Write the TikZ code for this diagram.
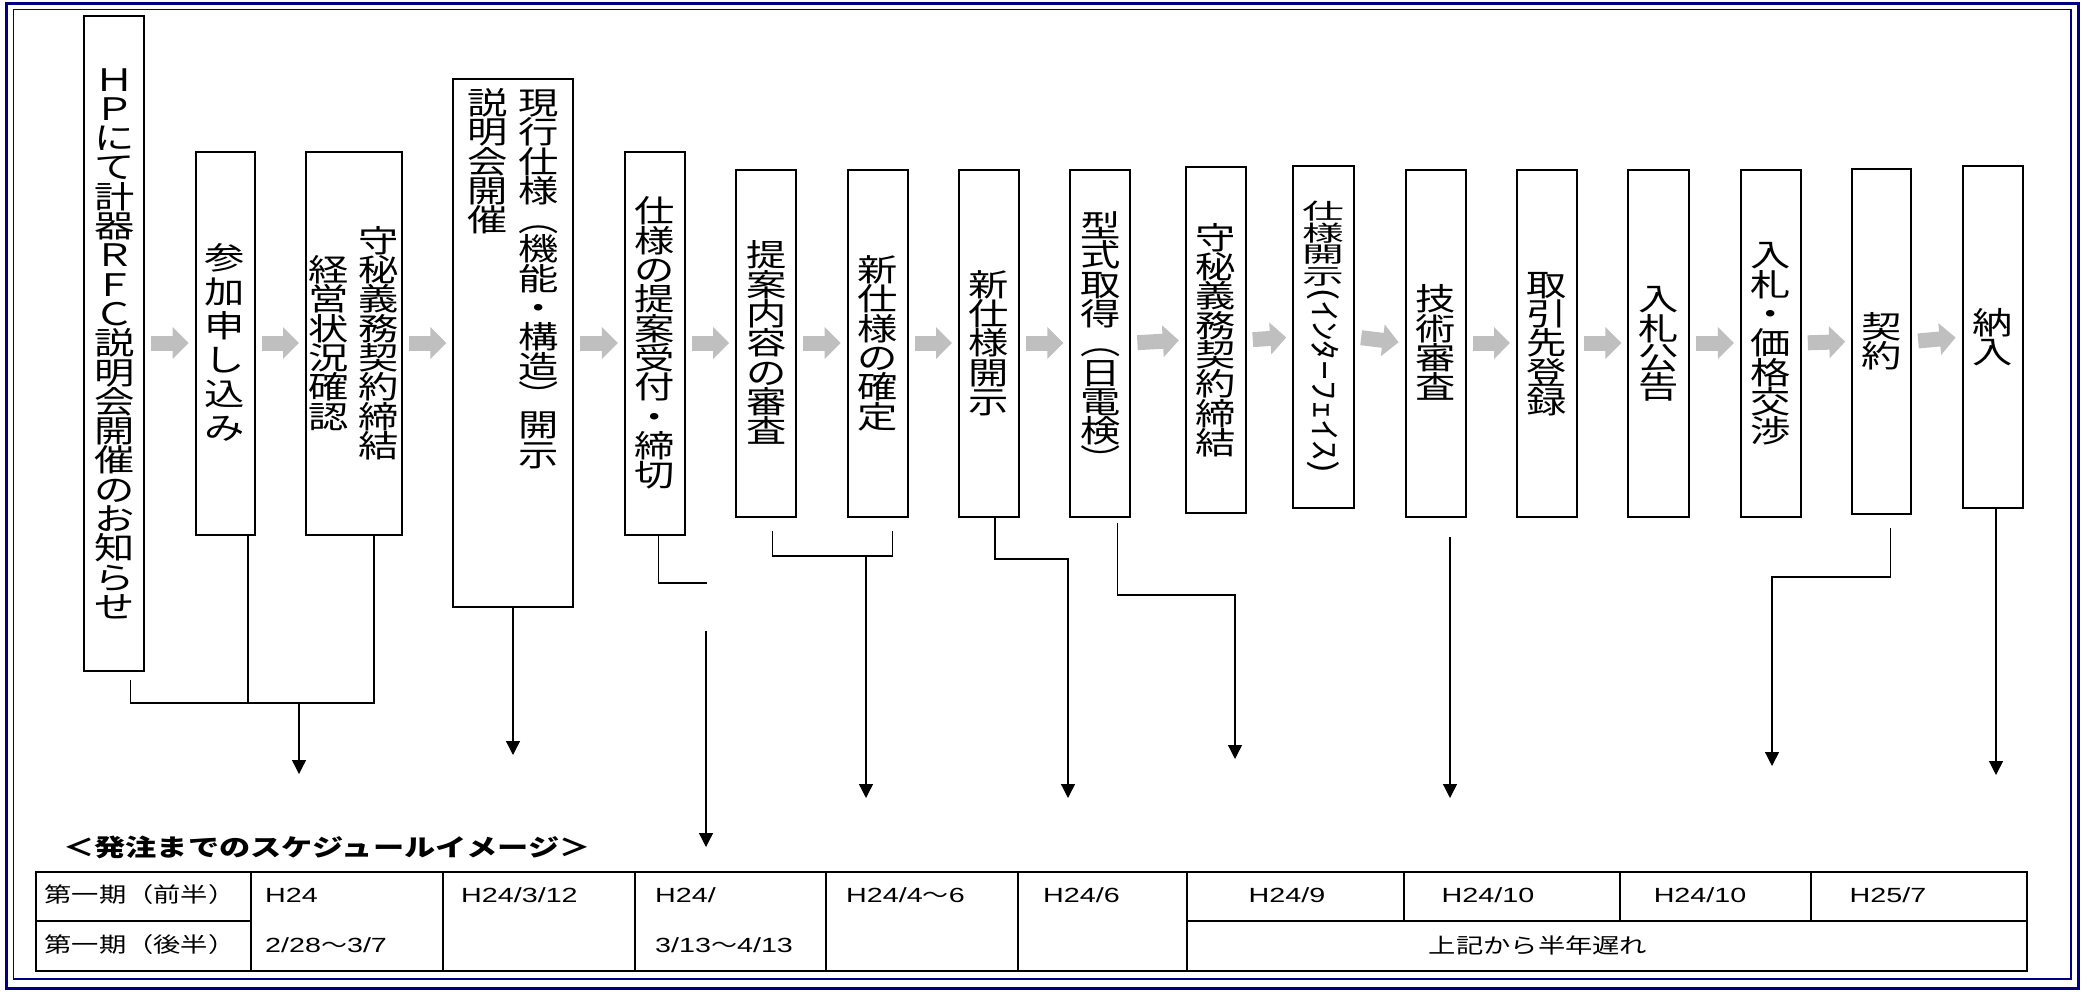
\documentclass[tikz,border=0pt]{standalone}
\usepackage{fontspec}
\usepackage{graphicx}
\usepackage{xcolor}
\usetikzlibrary{arrows.meta}

\newfontfamily\jpfont{Noto Sans CJK JP}[FakeStretch=1.3]
\newfontfamily\jpwide{Noto Sans CJK JP}[FakeStretch=1.9]
\newfontfamily\latfont{Liberation Sans}[FakeStretch=1.4]
\definecolor{framenavy}{RGB}{0,0,128}

\newcommand{\stepfont}{\jpfont\fontsize{31}{29.3}\selectfont}
\newcommand{\smallstepfont}{\jpwide\fontsize{22}{21.5}\selectfont}
\newcommand{\titlefont}{\jpfont\bfseries\fontsize{24}{28}\selectfont}
\newcommand{\tabfont}{\latfont\fontsize{20.5}{26}\selectfont}
\newcommand{\tabjpfont}{\jpfont\fontsize{21}{26}\selectfont}
\newcommand{\nami}{{\jpfont\fontsize{20}{26}\selectfont ～}}

% vertical text: one character per line
\makeatletter
\newcommand{\tatesetup}{\hsize=44pt\lineskiplimit=-\maxdimen}
\newcommand{\tatelines}[1]{\@tfor\tate@c:=#1\do{%
  \hbox to\hsize{\hss\vrule height.88em depth.12em width\z@\tate@c\hss}}}
\newcommand{\tate}[1]{\ensuremath{\vcenter{\tatesetup\tatelines{#1}}}}
\newcommand{\tatetop}[1]{\vtop{\tatesetup\tatelines{#1}}}
\newcommand{\tatetail}[1]{\nointerlineskip\kern1pt
  \hbox to\hsize{\hss\rotatebox{-90}{\resizebox*{186pt}{32pt}{#1}}\hss}}
\makeatother

\begin{document}
\begin{tikzpicture}[x=1pt,y=-1pt]
\tikzstyle{stepbox} = [rectangle, draw=black, line width=2pt, fill=white,
inner sep=0pt, minimum width=60pt, minimum height=347pt, font=\stepfont]
\tikzstyle{coltext} = [inner sep=0pt, font=\stepfont]
\tikzstyle{flow} = [draw=black!25, line width=15pt, shorten <=6pt, shorten >=6pt,
-{Triangle[length=16pt,width=31pt]}]
\tikzstyle{conn} = [draw, line width=1.3pt]
\tikzstyle{connarrow} = [conn, -{Triangle[length=14pt,width=14pt]}]
\tikzstyle{tabline} = [draw, line width=1.6pt]
\tikzstyle{tabtext} = [inner sep=0pt, anchor=west, font=\tabfont]
\tikzstyle{tabjp} = [inner sep=0pt, font=\tabjpfont]

\useasboundingbox (0,0) rectangle (2087,991);
% frame
\draw[framenavy, line width=3pt] (6,3) rectangle (2078,988);
\draw[framenavy, line width=1.5pt] (13.5,9.5) rectangle (2071,979);

% steps
\matrix (steps) [column sep=49.4pt, inner sep=0pt, anchor=west] at (83,343)
{
\node [stepbox, minimum height=655pt] (b1) {\tate{ＨＰにて計器ＲＦＣ説明会開催のお知らせ}}; &
\node [stepbox, minimum width=59pt, minimum height=383pt,
  font=\jpfont\fontsize{31}{34}\selectfont] (b2) {\tate{参加申し込み}}; &
\node [stepbox, minimum width=96pt, minimum height=383pt] (b3)
  {\tate{経営状況確認}\hspace{6pt}\tate{守秘義務契約締結}}; &
\node [stepbox, minimum width=120pt, minimum height=528pt] (b4) {}; &
\node [stepbox, minimum height=383pt] (b5) {\tate{仕様の提案受付・締切}}; &
\node [stepbox] (b6) {\tate{提案内容の審査}}; &
\node [stepbox] (b7) {\tate{新仕様の確定}}; &
\node [stepbox] (b8) {\tate{新仕様開示}}; &
\node [stepbox] (b9) {\tate{型式取得︵日電検︶}}; &[4pt]
\node [stepbox, minimum height=346pt, yshift=3pt] (b10) {\tate{守秘義務契約締結}}; &[-4pt]
\node [stepbox, minimum width=61pt, minimum height=342pt, yshift=6pt,
  font=\smallstepfont] (b11)
  {\ensuremath{\vcenter{\tatesetup\tatelines{仕様開示}\tatetail{(ｲﾝﾀｰﾌｪｲｽ)}}}}; &
\node [stepbox] (b12) {\tate{技術審査}}; &
\node [stepbox] (b13) {\tate{取引先登録}}; &
\node [stepbox, minimum width=61pt] (b14) {\tate{入札公告}}; &
\node [stepbox] (b15) {\tate{入札・価格交渉}}; &
\node [stepbox, minimum width=59pt, minimum height=345pt, yshift=1.5pt] (b16) {\tate{契約}}; &
\node [stepbox, minimum height=342pt, yshift=6pt] (b17) {\tate{納入}}; \\
};
\node [coltext, anchor=north] (b4txt) at ([yshift=-9pt]b4.north)
  {\tatetop{説明会開催}\hspace{7pt}\tatetop{現行仕様︵機能・構造︶開示}};

% grey arrows between the steps
\path[flow] (b1.east) -- (b2.west);
\path[flow] (b2.east) -- (b3.west);
\path[flow] (b3.east) -- (b4.west);
\path[flow] (b4.east) -- (b5.west);
\path[flow] (b5.east) -- (b6.west);
\path[flow] (b6.east) -- (b7.west);
\path[flow] (b7.east) -- (b8.west);
\path[flow] (b8.east) -- (b9.west);
\path[flow] (b9.east) -- (b10.west);
\path[flow] (b10.east) -- (b11.west);
\path[flow] (b11.east) -- (b12.west);
\path[flow] (b12.east) -- (b13.west);
\path[flow] (b13.east) -- (b14.west);
\path[flow] (b14.east) -- (b15.west);
\path[flow] (b15.east) -- (b16.west);
\path[flow] (b16.east) -- (b17.west);

% connectors down to the schedule
\coordinate (m1) at (299,703);
\coordinate (e1) at (299,774);
\coordinate (e4) at (513,755);
\coordinate (k5) at (707,583);
\coordinate (s5) at (706,631);
\coordinate (e5) at (706,847);
\coordinate (m6) at (866,556);
\coordinate (e6) at (866,798);
\coordinate (k8) at (1068,559);
\coordinate (e8) at (1068,798);
\coordinate (k9) at (1235,595);
\coordinate (e9) at (1235,759);
\coordinate (e12) at (1450,798);
\coordinate (k16) at (1772,577);
\coordinate (e16) at (1772,766);
\coordinate (e17) at (1996,775);

\draw[conn] ([xshift=16pt,yshift=-8pt]b1.south) |- (m1) -| ([xshift=20pt]b3.south);
\draw[conn] ([xshift=23pt]b2.south) -- ([xshift=23pt]b2.south |- m1);
\draw[connarrow] (m1) -- (e1);
\draw[connarrow] (b4.south -| e4) -- (e4);
\draw[conn] ([xshift=3.4pt]b5.south) |- (k5);
\draw[connarrow] (s5) -- (e5);
\draw[conn] ([xshift=6pt,yshift=-13pt]b6.south) |- (m6) -| ([xshift=14.6pt,yshift=-13pt]b7.south);
\draw[connarrow] (m6) -- (e6);
\draw[connarrow] ([xshift=6pt]b8.south) |- (k8) -- (e8);
\draw[connarrow] ([xshift=17pt,yshift=-5pt]b9.south) |- (k9) -- (e9);
\draw[connarrow] ([yshift=-19pt]b12.south -| e12) -- (e12);
\draw[connarrow] ([xshift=8.5pt,yshift=-13pt]b16.south) |- (k16) -- (e16);
\draw[connarrow] (b17.south -| e17) -- (e17);

% schedule table
\node [inner sep=0pt, anchor=west, font=\titlefont] (title) at (63,847)
  {＜発注までのスケジュールイメージ＞};
\draw[tabline] (36,872) rectangle (2027,971);
\draw[tabline] (36,921) -- (251,921);
\draw[tabline] (1187,921) -- (2027,921);
\draw[tabline] (251,872) -- (251,971);
\draw[tabline] (443,872) -- (443,971);
\draw[tabline] (635,872) -- (635,971);
\draw[tabline] (826,872) -- (826,971);
\draw[tabline] (1018,872) -- (1018,971);
\draw[tabline] (1187,872) -- (1187,971);
\draw[tabline] (1404,872) -- (1404,921);
\draw[tabline] (1620,872) -- (1620,921);
\draw[tabline] (1811,872) -- (1811,921);

\node [tabjp] (p1) at (140,895) {第一期（前半）};
\node [tabjp] (p2) at (140,945) {第一期（後半）};
\node [tabtext] (d1) at (265,895) {H24};
\node [tabtext] (d2) at (265,945) {2/28\nami 3/7};
\node [tabtext] (d3) at (461,895) {H24/3/12};
\node [tabtext] (d4) at (655,895) {H24/};
\node [tabtext] (d5) at (655,945) {3/13\nami 4/13};
\node [tabtext] (d6) at (846,895) {H24/4\nami 6};
\node [tabtext] (d7) at (1043,895) {H24/6};
\node [tabtext, anchor=center] (d8) at (1287,895) {H24/9};
\node [tabtext, anchor=center] (d9) at (1488,895) {H24/10};
\node [tabtext, anchor=center] (d10) at (1700,895) {H24/10};
\node [tabtext, anchor=center] (d11) at (1888,895) {H25/7};
\node [tabjp] (d12) at (1538,945) {上記から半年遅れ};
\end{tikzpicture}
\end{document}
